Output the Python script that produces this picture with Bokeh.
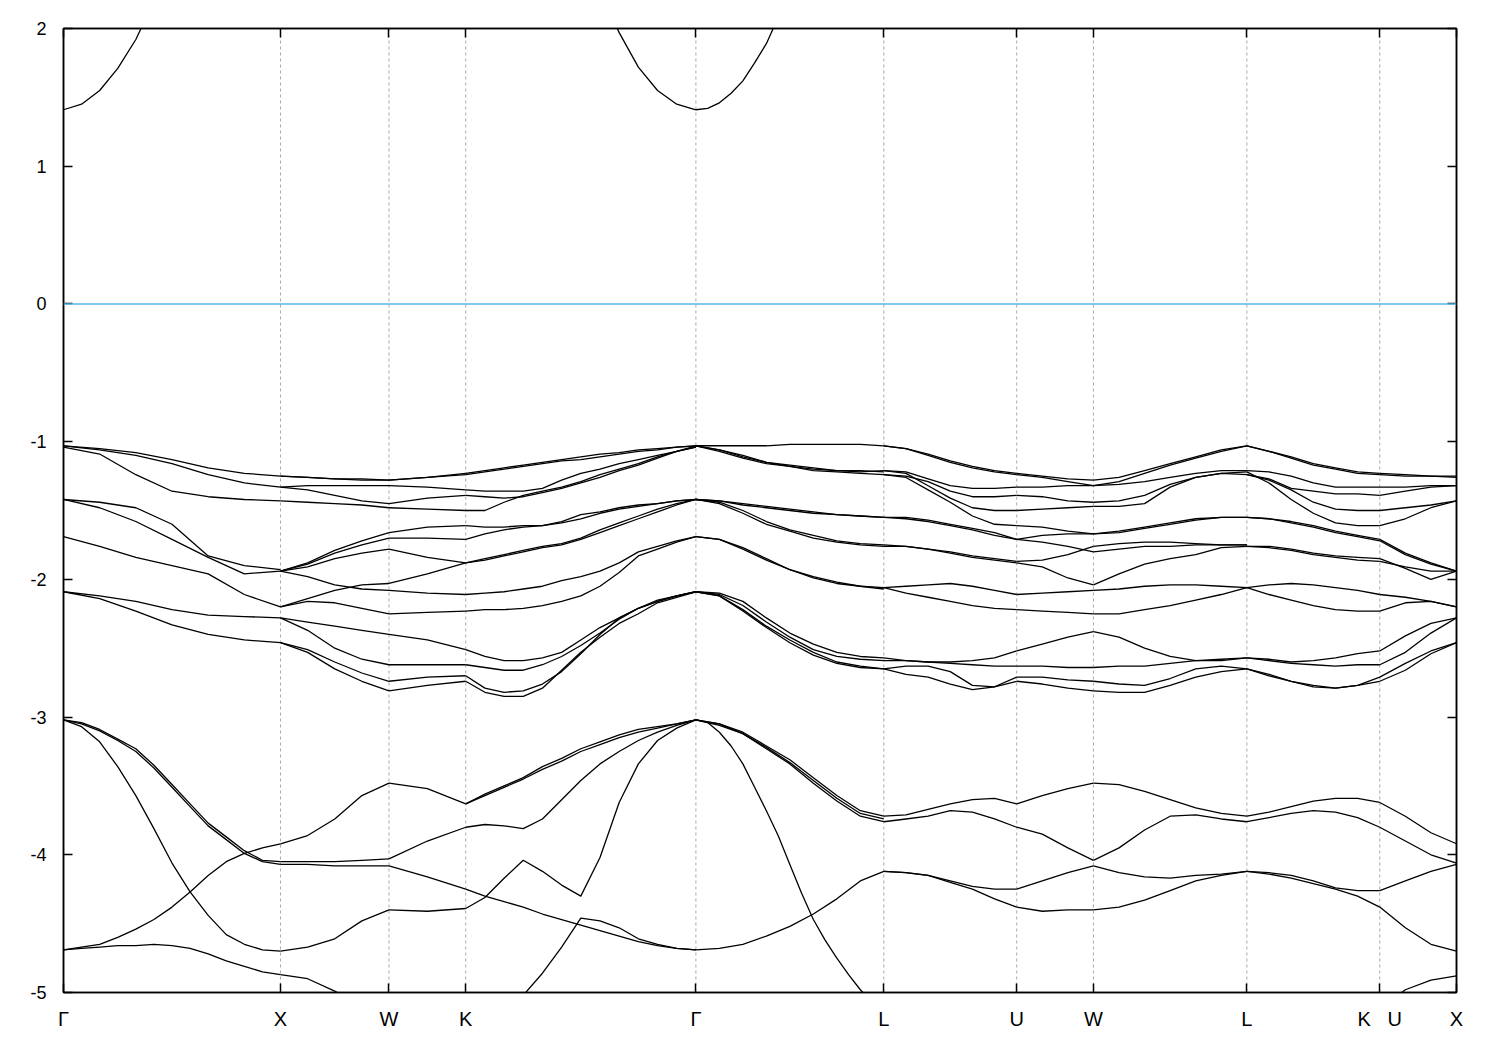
import numpy as np
from bokeh.plotting import figure
from bokeh.models import Range1d, FixedTicker, LinearAxis, Span
from bokeh.embed import file_html
from bokeh.resources import INLINE

nan = float("nan")

# ---- k-path ----
kpoint_labels = ["Γ", "X", "W", "K", "Γ", "L", "U", "W", "L", "K\u00a0\u00a0\u00a0U", "X"]
segment_lengths = [1.0, 0.5, 0.3536, 1.0607, 0.8660, 0.6124, 0.3536, 0.7071, 0.6124, 0.3536]
y_ticks = [-5, -4, -3, -2, -1, 0, 1, 2]
fermi_level = 0.0

# ---- band energies (eV); each block is sampled evenly along one path segment ----
# Gamma -> X, valence bands -1 ... -2.5 eV (7 samples)
GX_upper = [
    [-1.03, -1.05, -1.08, -1.13, -1.19, -1.23, -1.25],
    [-1.03, -1.06, -1.10, -1.16, -1.24, -1.30, -1.33],
    [-1.04, -1.09, -1.24, -1.36, -1.40, -1.42, -1.43],
    [-1.42, -1.44, -1.48, -1.60, -1.83, -1.90, -1.93],
    [-1.42, -1.48, -1.58, -1.71, -1.84, -1.96, -1.94],
    [-1.69, -1.76, -1.84, -1.90, -1.96, -2.11, -2.20],
    [-2.09, -2.12, -2.16, -2.22, -2.26, -2.27, -2.28],
    [-2.09, -2.14, -2.23, -2.33, -2.40, -2.44, -2.46],
]
# Gamma -> X, conduction band and bands below -3 eV (13 samples)
GX_lower = [
    [1.41, 1.45, 1.55, 1.71, 1.92, 2.20, nan, nan, nan, nan, nan, nan, nan],
    [-3.02, -3.04, -3.09, -3.16, -3.23, -3.35, -3.49, -3.63, -3.77, -3.87, -3.97, -4.04, -4.05],
    [-3.02, -3.05, -3.10, -3.17, -3.25, -3.37, -3.51, -3.65, -3.79, -3.89, -3.99, -4.05, -4.07],
    [-3.02, -3.07, -3.18, -3.36, -3.57, -3.81, -4.06, -4.27, -4.44, -4.58, -4.65, -4.69, -4.70],
    [-4.69, -4.67, -4.65, -4.60, -4.54, -4.47, -4.38, -4.27, -4.15, -4.05, -3.99, -3.95, -3.92],
    [-4.69, -4.68, -4.67, -4.66, -4.66, -4.65, -4.66, -4.68, -4.72, -4.77, -4.81, -4.85, -4.87],
]

XW = [
    [-1.25, -1.26, -1.27, -1.27, -1.28],
    [-1.25, -1.26, -1.27, -1.28, -1.28],
    [-1.33, -1.32, -1.32, -1.32, -1.32],
    [-1.33, -1.35, -1.39, -1.43, -1.45],
    [-1.43, -1.44, -1.45, -1.46, -1.48],
    [-1.94, -1.88, -1.79, -1.72, -1.66],
    [-1.94, -1.89, -1.81, -1.75, -1.70],
    [-1.94, -1.91, -1.85, -1.81, -1.78],
    [-1.94, -1.98, -2.04, -2.07, -2.08],
    [-2.20, -2.14, -2.08, -2.04, -2.03],
    [-2.20, -2.16, -2.17, -2.21, -2.25],
    [-2.28, -2.31, -2.34, -2.37, -2.40],
    [-2.28, -2.37, -2.50, -2.58, -2.62],
    [-2.46, -2.51, -2.60, -2.68, -2.74],
    [-2.46, -2.53, -2.65, -2.74, -2.81],
    [-3.92, -3.86, -3.74, -3.57, -3.48],
    [-4.05, -4.05, -4.05, -4.04, -4.03],
    [-4.07, -4.07, -4.08, -4.08, -4.08],
    [-4.70, -4.67, -4.61, -4.48, -4.40],
    [-4.87, -4.90, -4.99, -5.10, -5.21],
]

WK = [
    [-1.28, -1.26, -1.23],
    [-1.28, -1.26, -1.24],
    [-1.32, -1.33, -1.35],
    [-1.45, -1.41, -1.39],
    [-1.48, -1.49, -1.50],
    [-1.66, -1.62, -1.61],
    [-1.70, -1.70, -1.71],
    [-1.78, -1.84, -1.88],
    [-2.03, -1.96, -1.88],
    [-2.08, -2.10, -2.11],
    [-2.25, -2.24, -2.23],
    [-2.40, -2.44, -2.51],
    [-2.62, -2.62, -2.62],
    [-2.74, -2.71, -2.70],
    [-2.81, -2.77, -2.74],
    [-3.48, -3.52, -3.63],
    [-4.03, -3.90, -3.80],
    [-4.08, -4.16, -4.25],
    [-4.40, -4.41, -4.39],
    [-5.21, -5.36, -5.50],
]

KG = [
    [nan, nan, nan, nan, nan, nan, nan, 2.28, 1.97, 1.72, 1.55, 1.45, 1.41],
    [-1.23, -1.21, -1.19, -1.17, -1.15, -1.13, -1.11, -1.09, -1.08, -1.06, -1.05, -1.04, -1.03],
    [-1.24, -1.22, -1.20, -1.18, -1.16, -1.14, -1.13, -1.11, -1.09, -1.07, -1.06, -1.04, -1.03],
    [-1.35, -1.36, -1.36, -1.36, -1.34, -1.28, -1.23, -1.20, -1.16, -1.13, -1.10, -1.07, -1.03],
    [-1.39, -1.40, -1.41, -1.40, -1.37, -1.34, -1.30, -1.26, -1.21, -1.17, -1.12, -1.07, -1.04],
    [-1.50, -1.50, -1.44, -1.39, -1.36, -1.33, -1.29, -1.24, -1.20, -1.16, -1.11, -1.07, -1.04],
    [-1.61, -1.62, -1.62, -1.61, -1.61, -1.58, -1.53, -1.51, -1.48, -1.46, -1.45, -1.43, -1.42],
    [-1.71, -1.67, -1.64, -1.62, -1.61, -1.59, -1.56, -1.52, -1.49, -1.47, -1.45, -1.43, -1.42],
    [-1.88, -1.85, -1.82, -1.79, -1.76, -1.74, -1.70, -1.64, -1.59, -1.54, -1.49, -1.45, -1.42],
    [-1.88, -1.86, -1.83, -1.80, -1.77, -1.75, -1.71, -1.66, -1.61, -1.56, -1.51, -1.46, -1.42],
    [-2.11, -2.10, -2.09, -2.07, -2.05, -2.01, -1.98, -1.94, -1.88, -1.80, -1.76, -1.72, -1.69],
    [-2.23, -2.22, -2.22, -2.21, -2.19, -2.16, -2.12, -2.05, -1.95, -1.83, -1.78, -1.73, -1.69],
    [-2.51, -2.56, -2.59, -2.59, -2.57, -2.53, -2.44, -2.35, -2.28, -2.21, -2.16, -2.12, -2.09],
    [-2.62, -2.64, -2.66, -2.66, -2.62, -2.56, -2.48, -2.39, -2.29, -2.21, -2.15, -2.12, -2.09],
    [-2.70, -2.79, -2.82, -2.81, -2.76, -2.67, -2.54, -2.40, -2.28, -2.21, -2.16, -2.12, -2.09],
    [-2.74, -2.82, -2.85, -2.85, -2.79, -2.66, -2.53, -2.42, -2.32, -2.25, -2.17, -2.13, -2.09],
    [-3.63, -3.56, -3.50, -3.44, -3.36, -3.30, -3.23, -3.18, -3.13, -3.09, -3.07, -3.05, -3.02],
    [-3.63, -3.57, -3.51, -3.45, -3.38, -3.32, -3.25, -3.20, -3.15, -3.11, -3.08, -3.05, -3.02],
    [-3.80, -3.78, -3.79, -3.81, -3.74, -3.60, -3.46, -3.34, -3.25, -3.17, -3.11, -3.06, -3.02],
    [-4.25, -4.30, -4.34, -4.38, -4.43, -4.47, -4.51, -4.55, -4.59, -4.63, -4.66, -4.68, -4.69],
    [-4.39, -4.31, -4.17, -4.04, -4.12, -4.22, -4.30, -4.02, -3.62, -3.34, -3.17, -3.08, -3.02],
    [-5.50, -5.34, -5.18, -5.02, -4.86, -4.67, -4.46, -4.48, -4.53, -4.61, -4.65, -4.68, -4.69],
]

# Gamma -> L (9 samples)
GL = [
    [-1.03, -1.03, -1.03, -1.03, -1.02, -1.02, -1.02, -1.02, -1.03],
    [-1.03, -1.06, -1.10, -1.15, -1.17, -1.19, -1.21, -1.21, -1.22],
    [-1.03, -1.06, -1.11, -1.15, -1.18, -1.20, -1.21, -1.22, -1.21],
    [-1.03, -1.07, -1.12, -1.16, -1.18, -1.21, -1.22, -1.23, -1.24],
    [-1.42, -1.43, -1.45, -1.47, -1.49, -1.51, -1.53, -1.54, -1.55],
    [-1.42, -1.43, -1.46, -1.48, -1.50, -1.52, -1.53, -1.54, -1.55],
    [-1.42, -1.44, -1.50, -1.58, -1.64, -1.68, -1.72, -1.74, -1.75],
    [-1.42, -1.45, -1.52, -1.60, -1.65, -1.70, -1.73, -1.75, -1.76],
    [-1.69, -1.71, -1.77, -1.85, -1.93, -1.98, -2.02, -2.05, -2.06],
    [-1.69, -1.71, -1.78, -1.86, -1.93, -1.99, -2.03, -2.05, -2.07],
    [-2.09, -2.10, -2.16, -2.28, -2.39, -2.47, -2.53, -2.56, -2.57],
    [-2.09, -2.11, -2.19, -2.31, -2.42, -2.51, -2.56, -2.58, -2.59],
    [-2.09, -2.12, -2.22, -2.34, -2.44, -2.53, -2.60, -2.63, -2.65],
    [-2.09, -2.12, -2.23, -2.35, -2.46, -2.55, -2.61, -2.64, -2.65],
    [-3.02, -3.05, -3.11, -3.21, -3.31, -3.44, -3.57, -3.68, -3.72],
    [-3.02, -3.05, -3.12, -3.22, -3.33, -3.46, -3.59, -3.70, -3.74],
    [-3.02, -3.06, -3.12, -3.23, -3.34, -3.48, -3.61, -3.72, -3.76],
    [-4.69, -4.68, -4.65, -4.59, -4.52, -4.43, -4.32, -4.19, -4.12],
]
# Gamma -> L, conduction band and the steep band (17 samples)
GL_fine = [
    [1.41, 1.42, 1.46, 1.53, 1.62, 1.75, 1.89, 2.08, nan, nan, nan, nan, nan, nan, nan, nan, nan],
    [-3.02, -3.04, -3.11, -3.21, -3.34, -3.51, -3.68, -3.86, -4.07, -4.28, -4.47, -4.62, -4.75,
     -4.87, -4.98, -5.07, -5.16],
]

LU = [
    [-1.03, -1.05, -1.09, -1.14, -1.18, -1.21, -1.23],
    [-1.03, -1.05, -1.10, -1.15, -1.19, -1.22, -1.24],
    [-1.21, -1.22, -1.27, -1.32, -1.34, -1.34, -1.33],
    [-1.24, -1.25, -1.29, -1.36, -1.40, -1.40, -1.39],
    [-1.21, -1.23, -1.32, -1.41, -1.48, -1.50, -1.50],
    [-1.24, -1.26, -1.35, -1.44, -1.54, -1.60, -1.61],
    [-1.55, -1.55, -1.57, -1.60, -1.63, -1.66, -1.71],
    [-1.55, -1.56, -1.58, -1.61, -1.64, -1.68, -1.71],
    [-1.75, -1.76, -1.78, -1.80, -1.83, -1.85, -1.87],
    [-1.76, -1.76, -1.78, -1.81, -1.84, -1.86, -1.88],
    [-2.06, -2.05, -2.04, -2.03, -2.05, -2.08, -2.11],
    [-2.06, -2.10, -2.13, -2.16, -2.19, -2.21, -2.22],
    [-2.57, -2.59, -2.60, -2.60, -2.59, -2.57, -2.52],
    [-2.59, -2.59, -2.60, -2.61, -2.62, -2.63, -2.63],
    [-2.65, -2.63, -2.63, -2.67, -2.77, -2.78, -2.71],
    [-2.65, -2.69, -2.71, -2.76, -2.80, -2.78, -2.74],
    [-3.72, -3.71, -3.67, -3.63, -3.60, -3.59, -3.63],
    [-3.76, -3.74, -3.72, -3.68, -3.69, -3.74, -3.80],
    [-4.12, -4.13, -4.15, -4.19, -4.23, -4.25, -4.25],
    [-4.12, -4.13, -4.15, -4.20, -4.25, -4.32, -4.38],
]

UW = [
    [-1.23, -1.25, -1.27, -1.28],
    [-1.24, -1.26, -1.29, -1.32],
    [-1.33, -1.33, -1.32, -1.32],
    [-1.39, -1.40, -1.43, -1.44],
    [-1.50, -1.49, -1.48, -1.47],
    [-1.61, -1.62, -1.65, -1.67],
    [-1.71, -1.68, -1.67, -1.67],
    [-1.71, -1.73, -1.76, -1.80],
    [-1.87, -1.86, -1.82, -1.76],
    [-1.88, -1.91, -1.99, -2.04],
    [-2.11, -2.10, -2.09, -2.08],
    [-2.22, -2.23, -2.24, -2.25],
    [-2.52, -2.47, -2.42, -2.38],
    [-2.63, -2.63, -2.64, -2.64],
    [-2.71, -2.71, -2.73, -2.74],
    [-2.74, -2.76, -2.79, -2.81],
    [-3.63, -3.57, -3.52, -3.48],
    [-3.80, -3.85, -3.95, -4.04],
    [-4.25, -4.19, -4.13, -4.08],
    [-4.38, -4.41, -4.40, -4.40],
]

WL = [
    [-1.28, -1.26, -1.21, -1.16, -1.11, -1.06, -1.03],
    [-1.32, -1.29, -1.23, -1.17, -1.12, -1.07, -1.03],
    [-1.32, -1.31, -1.29, -1.26, -1.23, -1.21, -1.21],
    [-1.44, -1.43, -1.39, -1.31, -1.26, -1.23, -1.24],
    [-1.47, -1.47, -1.45, -1.33, -1.26, -1.23, -1.22],
    [-1.67, -1.65, -1.62, -1.59, -1.56, -1.55, -1.55],
    [-1.67, -1.66, -1.63, -1.60, -1.57, -1.55, -1.55],
    [-1.80, -1.78, -1.76, -1.76, -1.75, -1.75, -1.75],
    [-1.76, -1.74, -1.73, -1.73, -1.74, -1.75, -1.75],
    [-2.04, -1.96, -1.89, -1.85, -1.82, -1.77, -1.76],
    [-2.08, -2.07, -2.05, -2.04, -2.04, -2.05, -2.06],
    [-2.25, -2.25, -2.22, -2.19, -2.15, -2.11, -2.06],
    [-2.38, -2.42, -2.50, -2.56, -2.59, -2.59, -2.57],
    [-2.64, -2.63, -2.63, -2.61, -2.59, -2.58, -2.57],
    [-2.74, -2.76, -2.77, -2.72, -2.65, -2.63, -2.65],
    [-2.81, -2.82, -2.82, -2.77, -2.71, -2.67, -2.65],
    [-3.48, -3.49, -3.54, -3.60, -3.66, -3.70, -3.72],
    [-4.04, -3.95, -3.82, -3.72, -3.71, -3.74, -3.76],
    [-4.08, -4.13, -4.16, -4.17, -4.15, -4.14, -4.12],
    [-4.40, -4.38, -4.33, -4.26, -4.19, -4.15, -4.12],
]

LK = [
    [-1.03, -1.07, -1.11, -1.16, -1.19, -1.22, -1.23],
    [-1.03, -1.07, -1.12, -1.17, -1.20, -1.23, -1.24],
    [-1.21, -1.22, -1.25, -1.30, -1.33, -1.33, -1.33],
    [-1.24, -1.27, -1.34, -1.36, -1.38, -1.38, -1.39],
    [-1.24, -1.28, -1.35, -1.44, -1.49, -1.50, -1.50],
    [-1.22, -1.30, -1.42, -1.52, -1.59, -1.61, -1.61],
    [-1.55, -1.56, -1.58, -1.61, -1.65, -1.68, -1.71],
    [-1.55, -1.56, -1.59, -1.62, -1.66, -1.69, -1.72],
    [-1.76, -1.76, -1.78, -1.81, -1.83, -1.84, -1.85],
    [-1.76, -1.77, -1.79, -1.82, -1.84, -1.86, -1.87],
    [-2.06, -2.04, -2.03, -2.04, -2.06, -2.08, -2.11],
    [-2.06, -2.11, -2.15, -2.19, -2.22, -2.23, -2.23],
    [-2.57, -2.58, -2.60, -2.59, -2.57, -2.54, -2.52],
    [-2.57, -2.59, -2.61, -2.62, -2.63, -2.62, -2.62],
    [-2.65, -2.69, -2.74, -2.78, -2.79, -2.77, -2.71],
    [-2.65, -2.70, -2.74, -2.77, -2.79, -2.77, -2.74],
    [-3.72, -3.69, -3.65, -3.61, -3.59, -3.59, -3.62],
    [-3.76, -3.73, -3.70, -3.68, -3.69, -3.73, -3.80],
    [-4.12, -4.13, -4.15, -4.19, -4.24, -4.26, -4.26],
    [-4.12, -4.14, -4.17, -4.21, -4.25, -4.30, -4.38],
]

UX = [
    [-1.23, -1.24, -1.25, -1.25],
    [-1.24, -1.25, -1.25, -1.26],
    [-1.33, -1.33, -1.32, -1.32],
    [-1.39, -1.36, -1.33, -1.32],
    [-1.50, -1.48, -1.46, -1.43],
    [-1.61, -1.56, -1.48, -1.43],
    [-1.71, -1.81, -1.88, -1.94],
    [-1.72, -1.82, -1.89, -1.94],
    [-1.85, -1.92, -2.00, -1.94],
    [-1.87, -1.91, -1.94, -1.94],
    [-2.11, -2.13, -2.16, -2.20],
    [-2.23, -2.17, -2.16, -2.20],
    [-2.52, -2.41, -2.32, -2.28],
    [-2.62, -2.53, -2.39, -2.28],
    [-2.71, -2.61, -2.52, -2.46],
    [-2.74, -2.66, -2.54, -2.46],
    [-3.62, -3.72, -3.84, -3.92],
    [-3.80, -3.90, -4.00, -4.06],
    [-4.26, -4.19, -4.12, -4.07],
    [-4.38, -4.53, -4.65, -4.70],
    [-5.12, -4.98, -4.91, -4.88],
]

# (segment index along the path, block of bands)
blocks = [(0, GX_upper), (0, GX_lower), (1, XW), (2, WK), (3, KG), (4, GL), (4, GL_fine),
          (5, LU), (6, UW), (7, WL), (8, LK), (9, UX)]

# ---- build the line data ----
kpos = np.round(np.concatenate([[0.0], np.cumsum(segment_lengths)]), 4)
xs, ys = [], []
for i, block in blocks:
    n = len(block[0])
    xg = np.linspace(kpos[i], kpos[i + 1], n)
    for band in block:
        b = np.array(band, dtype=float)
        ok = ~np.isnan(b)
        xs.append(list(xg[ok]))
        ys.append(list(b[ok]))

FONT = "Liberation Sans"

p = figure(width=1492, height=1042, output_backend="svg", toolbar_location=None,
           x_range=Range1d(0, float(kpos[-1])), y_range=Range1d(-5, 2),
           min_border_left=63, min_border_right=36, min_border_top=28, min_border_bottom=50)
p.grid.visible = False
p.outline_line_color = "black"
p.outline_line_width = 1.5
p.background_fill_color = "white"
p.border_fill_color = "white"

# vertical dashed lines at the high-symmetry points
for k in kpos[1:-1]:
    p.add_layout(Span(location=float(k), dimension="height", line_color="#a8a8a8",
                      line_dash="3 3", line_width=1, level="underlay"))

# Fermi level
p.add_layout(Span(location=fermi_level, dimension="width", line_color="#56b4e9", line_width=1.5))

p.multi_line(xs, ys, line_color="black", line_width=1.3, line_join="round")

# axes
xt = [float(k) for k in kpos]
p.xaxis.ticker = FixedTicker(ticks=xt)
p.xaxis.major_label_overrides = {float(k): lab for k, lab in zip(kpos, kpoint_labels)}
p.yaxis.ticker = FixedTicker(ticks=y_ticks)
p.yaxis.major_label_overrides = {t: str(t) for t in y_ticks}

for ax in [p.xaxis[0], p.yaxis[0]]:
    ax.major_tick_in = 9
    ax.major_tick_out = 0
    ax.minor_tick_line_color = None
    ax.axis_line_width = 1.5
    ax.major_tick_line_width = 1.5
    ax.major_label_text_font = FONT
    ax.major_label_text_color = "black"
p.xaxis.major_label_text_font_size = "20px"
p.xaxis.major_label_standoff = 15
p.yaxis.major_label_text_font_size = "18px"
p.yaxis.major_label_standoff = 17

# mirrored tick marks (no labels) on the right and top
right = LinearAxis(ticker=FixedTicker(ticks=y_ticks), major_label_text_color=None,
                   major_label_text_font_size="10px",
                   major_tick_in=9, major_tick_out=0, minor_tick_line_color=None,
                   axis_line_width=1.5, major_tick_line_width=1.5, major_label_standoff=0)
p.add_layout(right, "right")
top = LinearAxis(ticker=FixedTicker(ticks=xt), major_label_text_color=None,
                 major_label_text_font_size="10px",
                 major_tick_in=9, major_tick_out=0, minor_tick_line_color=None,
                 axis_line_width=1.5, major_tick_line_width=1.5, major_label_standoff=0)
p.add_layout(top, "above")

open("out.html", "w").write(file_html(p, INLINE))
